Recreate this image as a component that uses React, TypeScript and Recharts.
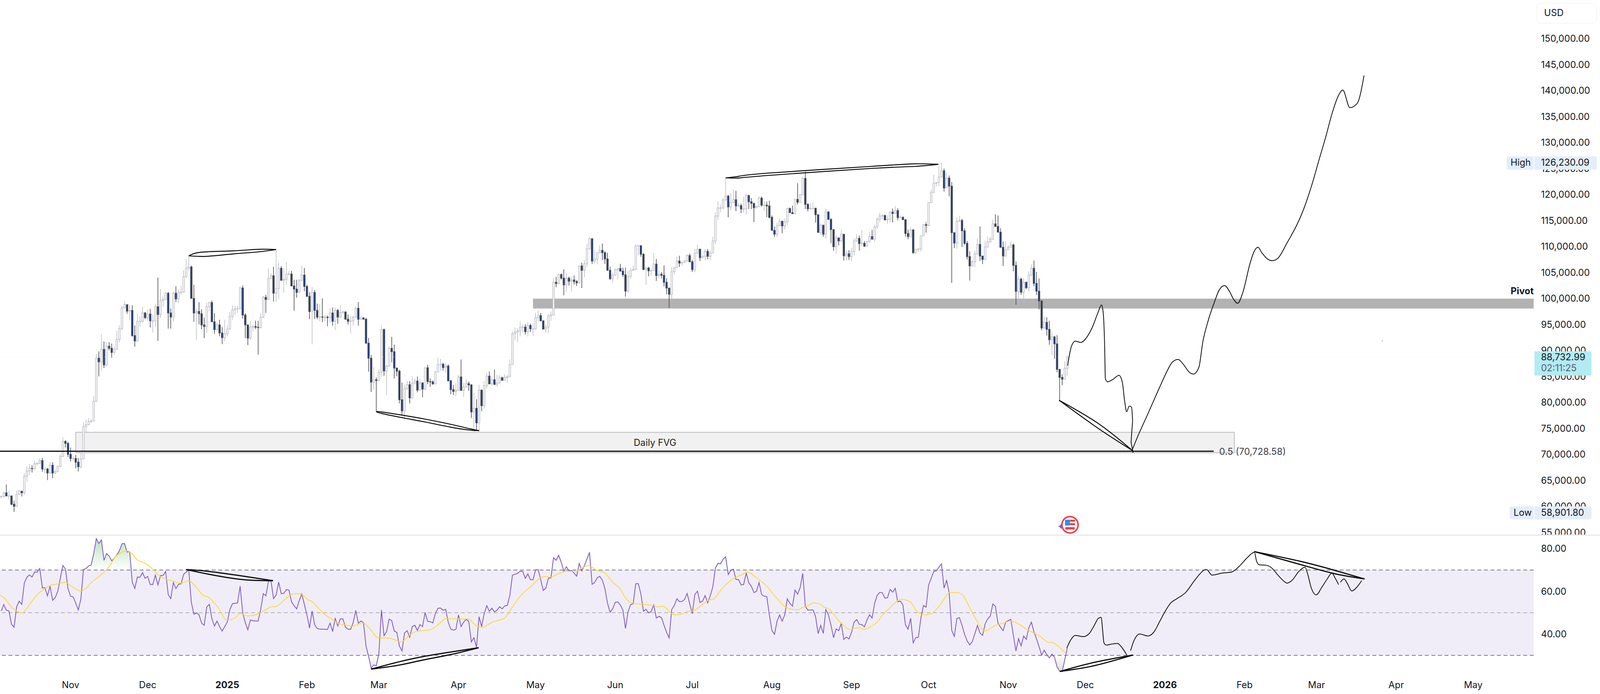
import { ComposedChart, Bar, Line, Area, XAxis, YAxis, ReferenceArea, ReferenceLine, ReferenceDot } from 'recharts'

// prices are in thousands of USD, one entry per daily bar
const closes = [
  61.9,62.6,62,62,60.4,60,62.3,62.9,62.6,65.8,
  66.8,67.3,67.27,68.2,68.27,68.8,67.17,67.17,66.4,67.9,
  66.4,66.7,67.7,69.6,72.5,72.1,70,69.2,69.2,68.5,
  67.6,69.1,75.3,75.7,76.3,76.4,80.2,88.5,87.8,90.2,
  87.2,90.8,90.4,89.6,90.2,92.1,94.2,98.2,98.8,97.55,
  97.7,92.85,91.8,95.6,95.6,97.2,96.3,97,95.7,95.7,
  98.4,96.9,99.6,99.8,101,97.2,96.4,101,99.9,101.2,
  101.2,104.2,105.8,106.05,100,97.2,97.5,97.05,94.9,94.6,
  98.4,99.2,95.5,94,94.9,93.35,92.45,93.2,94.1,96.55,
  97.8,98,98.05,102,96.8,94.9,92.35,94.5,94.6,94.45,
  94.4,96.4,100.2,99.8,103.85,104.36,101,101.9,105.8,103.5,
  103.65,104.7,104.7,102.4,101.8,101.15,103.5,104.5,102.3,100.4,
  97.47,101.15,97.7,96.4,96.45,96.4,96.4,96.3,97.2,95.6,
  97.7,96.4,97.3,97.4,96,95.6,95.65,96.4,98.1,96,
  96.25,96,91.4,88.5,83.9,84.35,84.2,85.8,94,86.05,
  87,90.4,89.75,86.6,86,80.5,78.35,82.65,83.4,80.85,
  83.7,84.1,82.35,83.75,82.55,86.65,84,83.95,83.55,85.85,
  87.3,87.35,86.7,87,84.15,82.45,82.1,82.35,84.9,82.3,
  82.95,83.6,83.35,78.15,78.85,76.05,82.35,79.35,83.2,85.05,
  83.55,84.35,83.45,83.75,84.75,84.25,84.8,85,87.3,93.2,
  93.5,93.75,94.45,94.5,93.6,94.8,94.15,94.15,96.3,96.7,
  95.7,94.1,94.5,96.65,96.8,103.1,102.85,104.6,103.9,102.6,
  103.9,103.3,103.55,103.25,103,106.25,105.4,106.65,109.5,111.5,
  107.2,107.6,108.8,109.25,108.8,107.6,105.4,103.8,104.5,105.5,
  105.75,105.25,104.55,101.4,104.2,105.4,105.6,110.1,110.15,108.5,
  105.55,105.85,105.3,105.35,106.6,104.4,104.65,104.45,103.1,101.99,
  100.8,105.15,105.9,107.2,106.8,106.9,107.2,108.25,107.05,105.55,
  108.7,109.45,107.85,108.1,109.05,108.1,108.75,111.05,115.85,117.4,
  117.4,118.95,119.7,117.6,118.45,119,117.8,117.85,117.2,117.25,
  119.8,118.6,118.3,117.45,117.7,119.3,117.95,117.95,117.8,115.6,
  113.1,112.35,114,114.85,113.95,114.75,117.3,116.5,116.3,119.05,
  118.5,119.95,123.1,118.1,117.25,117.35,117.35,116.1,112.7,114.1,
  112.35,116.65,115.2,113.25,109.95,111.65,111.05,112.35,108.2,108.6,
  108.05,109.05,111.05,111.55,110.55,110.6,110.05,110.95,111.9,111.4,
  113.75,115.25,115.85,115.95,115.1,115.25,116.6,116.35,116.9,115.55,
  115.6,115.15,112.5,111.9,113.2,108.8,109.45,109.55,112.05,114.2,
  114.05,118.45,120.4,122.15,122.3,123.35,124.55,121.25,123.15,121.6,
  112.65,110.65,114.85,115,113,110.6,108.05,106.25,107.05,108.55,
  110.4,108.15,107.5,109.9,110.85,111.4,114.35,113.85,112.75,109.85,
  108.15,109.4,109.85,110.3,106.35,101.35,103.7,101.2,103.1,102.05,
  104.5,105.8,102.9,101.4,99.5,94.3,95.4,94.05,92.05,92.6,
  91.25,86.35,84.8,84.45,86.55,88.73,
]

const highs = [
  62.1,62.8,64.2,63,62,61.06,63.1,63.2,63,66.3,
  67.7,68.2,67.9,68.8,68.5,69.2,69.3,67.5,67.4,68.5,
  68.5,67,67.85,69.95,73.3,72.7,72.4,71.3,69.6,69.9,
  69.3,70.3,76.2,76.7,77,76.8,81.2,89.3,89.8,93.1,
  91.7,91.6,91.6,91.3,90.7,93.75,94.8,98.6,99.5,98.8,
  98.6,98.7,94.8,97,96.5,98.4,97.4,97.9,98,96.9,
  98.9,104,101.8,100.4,101.25,101.25,98.05,101.3,102.35,101.7,
  102.4,105.4,107.55,108.2,106.35,102.6,98,99.3,97.9,96.3,
  99.2,99.4,99.6,97.15,95.4,95.9,94.5,95.9,94.8,97.4,
  98.6,98.6,98.6,102.25,102.5,97.15,95,95.6,95,95.7,
  95.7,97.2,100.5,100.7,105.7,104.8,106.1,109.3,106.9,106.2,
  105.8,107,105.3,105.3,103.6,103.6,103.75,106.3,105.85,102.65,
  101.2,102.15,101.6,99,98.9,100,96.75,96.7,98.1,98.25,
  98.25,98,98.7,97.7,97.5,96.9,96.65,96.65,98.5,99.3,
  96.65,96.4,96.25,92.4,89.1,86.75,84.8,86.35,94.8,94.2,
  87.2,90.75,92.6,91.1,86.7,86.3,83.8,83.35,84.1,84.1,
  85,84.6,84.95,84.5,83.75,86.8,87.25,84.6,84.2,86.1,
  88.6,88.4,87.6,87.55,87.3,84.35,83.35,83.7,85.3,88.25,
  83.7,84.45,84,83.55,81.9,80.6,83.35,82.5,84.05,85.7,
  85.95,85,86.3,85.3,85.25,84.95,85.45,85.25,88.25,93.7,
  94.4,94.25,95.55,95.05,95.05,95.45,95.15,95.15,97.25,97.7,
  97.2,95.75,95,97,97.5,103.9,104.15,104.8,104.8,105.6,
  104.8,104.2,104.15,104.4,103.55,106.3,106.9,107.3,110.55,111.85,
  111.55,109.35,108.85,110.25,110.55,109.1,108.8,106.1,104.9,105.8,
  105.85,106.65,105.9,105.9,105.3,105.9,106.35,110.45,110.25,110.15,
  108.7,106.05,106.1,105.6,108.75,107.6,105.3,105.05,106.35,103.85,
  101.99,106,105.95,108.05,108.2,107.1,107.45,108.45,108.6,107.4,
  109.55,110.35,109.6,108.2,109.5,109.5,109.25,111.85,116.55,118.65,
  118.05,119.35,123.2,119.9,120.3,120.9,120.7,118.4,118.2,119.55,
  120.15,119.95,119.3,118.3,117.8,119.6,119.6,118.7,118.6,118.8,
  115.95,113.85,114.55,115.5,114.95,115.35,117.5,117.5,117.85,119.1,
  122.15,120.1,123.45,124.4,118.3,118.3,118.45,117.45,116.1,114.4,
  114.1,117.3,116.75,115.45,113.25,112.25,111.65,113.25,112.4,109.2,
  109.3,109.7,111.5,112.4,112.1,113.2,111.05,111.05,112.75,113.2,
  114.2,115.6,116.55,116.2,116.1,115.95,116.75,117.3,117.8,117.35,
  116,115.8,115.25,113.25,113.75,113.25,109.55,109.6,112.1,114.3,
  114.65,118.5,120.95,123.8,122.35,125.5,126.23,125,124.1,123.65,
  122.4,112.7,115.65,115.9,115.3,113.5,111.05,109.05,107.4,109.2,
  111.5,113.85,108.15,111.15,111.9,111.85,115.2,116.2,115.95,113.5,
  110.95,110.95,110.2,110.95,110.55,107.1,104.35,104,103.85,103.25,
  105.2,106.55,107.3,105.1,103.85,99.65,96.55,96.4,95.7,93.5,
  92.8,92.95,86.4,85.4,87.9,89.1,
]

const lows = [
  61.5,61.6,61.9,61.3,60.2,58.9,60,62.3,61.9,62.2,
  64.65,66,66.5,67,67.8,68.1,66.66,66.3,65.05,66.3,
  65.4,66.2,66.6,67.5,69.5,71.3,69.5,68.6,68.8,67.3,
  66.7,67.3,69.1,74.2,75.6,76,76.4,80.2,85,86.1,
  86.6,86.9,90,88.6,89.2,90.2,91.5,93.9,98.05,97.05,
  95.8,92.6,90.7,91.6,94.6,95.3,96,95.7,94.4,93.45,
  94.5,91.85,96.3,98.4,99.7,94.2,94.2,95.5,99.3,99.06,
  100.7,101.1,103.9,105.3,100,95.5,92,95,94.1,92.35,
  93.35,97.5,95.5,93.2,93.85,92.7,91.2,91.8,92.7,94.05,
  95.9,96.9,97.2,97.9,96.1,92.35,91,92.1,93.6,94.1,
  89.2,94.2,96.2,97.2,99.8,103.8,99.4,99.35,99.9,103.4,
  101.1,102.65,104.4,102.3,97.65,100.15,101.1,103.3,101.4,100.3,
  96,91.15,96.05,96,95.6,95.45,95.6,94.65,95.3,94.75,
  93.9,95.15,96.3,97,95.9,95,93.25,94.8,96.3,94.75,
  95.9,95.95,91.25,85.9,82,82.5,78.2,84.1,84.85,85.1,
  81.35,86.9,87.7,84.6,85.05,79.8,77.6,76.6,82.35,79.8,
  80.7,83.6,81.9,82.3,81,82.4,83.5,83,83.4,83.55,
  85.85,86.1,86.1,85.75,84,81.55,81.4,81.15,82.2,82.2,
  81.05,82.85,82.2,77,74.35,74.6,74.55,78.3,78.8,82.6,
  83.5,83.2,83.35,82.95,83.6,84.1,84.25,83.8,85,87.25,
  91.9,91.55,92.75,93.45,93.05,92.7,93.55,92.8,94,95.55,
  95.6,94.05,93.4,93.25,95.65,96.8,102.15,102.75,103.6,100.6,
  101.3,102.5,101.3,102.65,102.4,102.9,102,104.05,106.05,109.5,
  106.65,106.75,106.55,108.7,107.4,106.65,105.35,103.55,103,104.4,
  103.65,105.2,104.15,100.35,101.1,103.85,105.3,105.55,108.3,108,
  105.5,102.65,104.25,104.4,105.3,103.35,103.9,103.85,102.3,100.8,
  98.15,99.6,104.6,105.9,106.05,106.3,106.8,107.05,107,105.1,
  105.05,108.6,107.2,107.75,107.35,107.55,107.35,108.75,110.45,115.1,
  116.6,117.2,118.8,115.6,116.95,118.35,116.8,117.55,116.4,116.5,
  116.1,117.2,117.2,114.7,117.4,117.6,117.6,116.9,115.65,115.35,
  113.05,111.85,111.8,113.95,112.55,113.3,114.1,116.45,116.25,116.2,
  118.05,118.45,119.9,117.2,116.75,117,117.1,114.6,112.65,112.25,
  111.85,111.5,115.1,110.65,109.15,108.55,110.2,110.9,107.3,107.3,
  107.4,107.15,108.3,110.9,109.2,110.05,109.9,109.95,110.7,111.3,
  110.85,113.3,114.65,115.25,115,114.3,114.65,114.65,116.35,115.05,
  115.35,115.1,111.9,111.4,111.8,108.55,108.6,108.95,109.05,112,
  112.65,113.9,118.3,120.35,121.5,121.6,123.3,120.55,121.2,119.65,
  103,109.7,109.55,114.85,109.9,110.3,107.5,103.45,106.15,106.05,
  108.4,107.25,106.6,107.4,109.85,110.75,111.3,113.75,112.7,109.7,
  106.25,108.05,109.3,109.8,105.2,98.8,98.8,100.7,99.15,101.8,
  101.3,104.35,102.35,100.65,97.85,93.85,94.2,92.85,91.1,89.1,
  88.4,85.8,80.35,83.3,84.4,85.1,
]

const rsiValues = [
  50.8,53.8,51.2,50.8,44.6,43.2,52.8,55.4,53.9,64,
  66.6,67.7,66.7,69.1,69,70.7,61.6,61.7,57.9,62.4,
  55.8,57,60,66.1,72.1,70.4,61.2,57.7,57.4,54.5,
  51.3,56.3,70.2,70.7,71.9,72.3,77.7,84.7,82.4,84.1,
  74.5,77.7,76.6,74.3,75.5,77.1,79,82.3,82.4,78.4,
  78.6,64.3,61.4,66.7,66.6,68.8,66.1,67,63.2,63.2,
  67.6,63,67.4,67.4,69.3,58.5,56.6,64.1,61.3,63.3,
  63.5,67.9,69.1,70,54.8,49.3,49.9,49,45.1,44.1,
  52.7,53.9,47.2,43.8,46.1,43.5,41.4,43.5,45.6,51.5,
  54.2,54.4,54.6,62.4,49.9,45.4,42,46.6,46.3,46.1,
  46.1,51.5,58.9,57.9,64.6,65,56.6,58.2,64.3,58.9,
  59.1,60.8,60.6,55.1,53.3,51.8,55.7,58.8,53.9,49,
  42.8,50.8,44.4,42.6,42.3,42.3,42.2,42.2,45.1,41.2,
  47.3,43.8,47.1,47.1,43.2,42.3,42.2,45.4,51.1,45.1,
  46.1,45.4,34.4,29.5,24,25.5,25.2,30.7,51.3,39.3,
  41.1,47,46.3,41.4,40.8,34.4,32.1,40.5,41.6,38.5,
  43.5,44.1,41.7,44.4,43.5,50.1,45.9,45.8,45.2,49.6,
  52.1,52.2,51.2,51.6,45.6,42.3,41.8,42.2,49,43.5,
  45.6,46.9,45.9,36.3,38.3,33.8,48.1,43.5,49.6,53.3,
  50.7,52.1,50.4,51.2,52.8,51.8,53.2,53.4,58.2,67.6,
  68,68.4,69.4,69.3,66.1,68.2,65.5,65.4,70,70.2,
  65.5,60.4,61.5,66.1,66.4,75.8,74.6,76.9,73.7,69.4,
  71.5,69.6,69.8,68.5,67.1,73.1,69.6,72.1,75.2,78.3,
  63.3,64.1,66.4,67,65.2,61.2,54.5,50.2,51.8,54.8,
  55.1,53.6,51.2,42.6,50.5,53.8,54.2,63.6,63.6,58.8,
  50.7,51.6,49.9,50.5,53.6,47.5,48.3,47.7,44.1,40.8,
  38.2,51.5,53.4,56.5,55.2,55.3,56.2,59,54.2,49.6,
  58.5,60.1,54.8,55.4,58,54.6,57.9,62.1,71,73.1,
  72.9,75.1,76.2,67.9,69.8,70.4,65.6,65.5,63,63.2,
  68.6,64,62.4,59.4,60.1,64.1,58.5,57.7,57.5,49,
  41.7,39.9,46,49,46,49,56.5,54.4,53,60.6,
  58.7,61.8,68.4,53,51.2,51.3,51.3,48.1,40.2,44,
  40.3,51.5,49,44.1,38.3,42.4,41.6,44.9,37.5,38.6,
  37.7,40.8,45.6,46.8,44.6,44.4,43.4,46.6,49,47.5,
  54.5,58.2,59.5,59.3,56.8,57,60.9,59.6,61.4,55.1,
  55.4,53.6,44.3,42.3,47.4,35.9,38.3,38.5,47.5,53.4,
  52.6,63,66.1,69.3,69.6,71.3,72.9,61.5,65.1,59.4,
  41.7,38.9,47.3,47.7,44.1,39.9,36.8,34.9,36.5,40.2,
  44,40.5,39.4,44.7,47.1,48.4,54.1,53,45.1,43.2,
  41.6,45.6,46.3,46.9,39.3,32.1,37.9,34.5,39.1,37.5,
  42.9,45.6,41.1,37.7,34.1,30.1,32.4,30.4,28.8,30.6,
  29.2,24.6,22.7,22.5,28,33.5,
]

// RSI moving average, read at its turning points: [bar, value]
const rsiMa = [
  [-0.5,58.2],[1.5,56.6],[3.5,53.3],[5.5,51.15],[8.2,49.9],[9.6,51.45],[11.6,54.8],[14.3,58.8],[16.9,61.2],[19.4,62.9],
  [21,63.2],[23,63.8],[25,64.25],[27,62.75],[29.7,60.6],[31,60.1],[33,61.5],[35,63.95],[37.7,66.7],[39.7,68.55],
  [42.4,72.2],[44.4,76.15],[46.4,78],[49.1,78.9],[51.1,77.4],[53.1,74.6],[55.1,73.7],[57.2,72.2],[59.2,70.05],[61.2,67.6],
  [63.9,65.8],[66.5,64.9],[69.9,63.85],[73,64.9],[76,61.8],[78.6,58.15],[80.6,57.25],[82.6,55.1],[85.3,50.85],[87.3,46.9],
  [88.7,46.7],[91.3,47.8],[92.9,49.6],[96,48.5],[100,49.45],[102.7,51.15],[105.4,52.85],[106.8,52.8],[109.4,55.1],[112.1,57.85],
  [114.1,58.9],[116.8,58.65],[119.5,56],[120.8,55.4],[123.5,52.05],[125.5,49.6],[128.9,46.9],[131.6,44.7],[133.6,44.45],[136.3,43.65],
  [141,45.15],[143.6,42.3],[147,38.05],[150.3,38.2],[153,37.4],[155.7,36.3],[159,39.55],[161,41.05],[162.4,41.4],[167,42],
  [170.4,44.7],[173,47.3],[176.5,47.05],[181.8,47.05],[185.2,43.65],[187.2,43.2],[191.2,45.65],[195.9,47.5],[198,50.85],[201.3,56.65],
  [206.6,62.75],[209.7,66.1],[211.7,66.9],[213.7,66.7],[217.7,68.65],[220.4,69.45],[223.8,69.3],[225.8,70.85],[228.7,72.05],[231.8,69.85],
  [234.5,69],[238.5,63.65],[240.5,61.8],[243.2,56.65],[245.9,54.4],[249.9,53.9],[252.6,53.6],[255.9,52.8],[257.7,53],[260.6,49.9],
  [262.3,48.9],[265.3,49.6],[267.4,50.7],[269.4,50.85],[272,53],[275.4,55.85],[277.4,56.45],[279.4,59.4],[281.4,62.4],[283.4,64.55],
  [286.1,66.7],[288.8,68.05],[290.1,69],[291.4,68.65],[294.2,66.1],[297.5,63.05],[300.9,58.15],[302.9,55.4],[305.1,52.8],[308.9,51.45],
  [310.2,51.45],[312.3,52.65],[313.6,53],[316.3,54.6],[319,53.9],[320.3,52.55],[321.6,52.2],[326.3,45.95],[330.4,42.2],[333.7,43],
  [336.1,42.2],[338.4,43.5],[340.8,45.35],[343.1,49],[345.8,52.05],[348.4,55.1],[350.4,56.2],[353.8,55.1],[356.5,50.5],[359.8,49],
  [362.2,49.6],[364.9,52.65],[367.2,56.65],[369.2,59.4],[371.9,59.5],[374.3,58.15],[376.6,53.3],[379.3,47.2],[382.9,41.4],[386.7,43.85],
  [390.7,45.35],[392.7,46.1],[395.4,45.2],[398.7,42.6],[401.4,40.8],[404.1,39.25],[407.4,36.3],[409.4,35.9],[411.4,34.35],[414.5,30.8],
]

// hand-drawn price path: [bar, price]
const pricePathDown = [
  [415.1,87.07],[416.6,90.8],[418.1,91.77],[420.3,91.53],[422.5,92.49],[424.7,94.41],[426.95,97.29],[428.3,98.73],[428.9,97.53],[429.5,91.29],
  [429.8,84.58],[430.65,83.95],[432.9,84.48],[435.1,85.2],[436.4,83.86],[437.3,80.26],[438.1,78.2],[439.1,79.3],[440,79.06],[440.4,76.43],
]
const pricePathTip = [[440.4,76.43],[439.8,72.35],[440.6,70.29]]
const pricePathUp = [
  [440.3,70.9],[442.5,73.55],[446.2,77.62],[450.7,82.66],[453.6,85.78],[455.8,87.7],[458.1,88.27],[460.3,87.22],[462.5,85.78],[464,85.44],
  [466.2,86.74],[467.7,91.53],[469.9,95.85],[472.2,99.21],[474.1,101.6],[476.2,102.47],[478.1,101.37],[479.6,99.93],[481.3,99.06],[483.3,101.13],
  [486.2,106.88],[487.7,109.04],[489.2,109.85],[490.7,108.8],[492.9,107.6],[494.8,107.26],[496.9,107.7],[500.3,110.48],[507,117.19],[510.7,122.7],
  [512.9,126.54],[515.6,131.1],[518,135.5],[520.6,139.1],[522.2,140.1],[525,136.7],[527.8,137.5],[530.5,142.9],
]

// divergence strokes on the price pane
const priceStrokes = [
  [[73.05,108.2],[78,108.9],[90,109.15],[100,109.45],[107,109.4]],
  [[73.05,108.2],[80,108.1],[90,108.55],[100,108.95],[107,109.4]],
  [[146,78.22],[148.2,78.15],[156.9,77.47],[165,76.77],[175,75.77],[182.4,74.92],[186.05,74.55]],
  [[146,78.22],[148.2,77.85],[156.9,76.98],[165,76.22],[175,75.22],[182.4,74.66],[186.05,74.55]],
  [[282,123.2],[286.6,123.45],[298.2,124.1],[338.4,125.4],[355.7,125.9],[364.8,125.8]],
  [[282,123.2],[286.6,123.15],[298.2,123.65],[338.4,125],[355.7,125.4],[364.8,125.8]],
  [[411.8,80.4],[427,75.95],[440.3,70.75]],
  [[411.8,80.4],[427,75],[440.3,70.75]],
]

// hand-drawn RSI path: [bar, rsi]
const rsiPathA = [
  [414.8,33.45],[416.1,36.8],[418.1,39.4],[421.2,38.8],[423.5,40.2],[425.5,44.1],[427.2,47.5],[428.2,47.8],[428.7,42.3],[429.25,35.9],
  [430.2,34.85],[432.2,35.3],[434.6,35.6],[436.2,33.75],[438.2,30.1],
]
const rsiPathB = [
  [439.6,32.2],[440.9,36.8],[443.2,40],[446.3,39.1],[448.6,40.8],[451,46],[453,50.5],[455.2,54.5],[457.7,56.6],[461,59.4],
  [464.4,64.9],[466.4,67.9],[468.4,70.05],[469.2,70.2],[471.3,67.6],[475.1,68.5],[479.1,69.1],[481.8,71.6],[485.1,75.85],[487.8,78.3],
  [488.7,74],[489.8,72.4],[492.5,72.2],[494.5,71],[497.2,67.3],[499.2,64.85],[500.5,63.85],[502.5,65.2],[505.2,69.45],[507.5,71.3],
  [508.6,67.9],[509.9,61.8],[511.9,58.35],[514,61.8],[516,65.5],[518,68.5],[519.3,66.1],[520.6,63.15],
]
const rsiPathC = [[521.3,64.25],[522.7,65.8],[524,63.65],[525.7,60.2],[528,62.4],[529.6,65.05]]

const rsiStrokes = [
  [[72,70.2],[80,69.45],[93.3,67.3],[105.8,65]],
  [[72,70.2],[80,68.2],[93.3,65.6],[105.8,65]],
  [[144,23.6],[155,27.05],[164.4,29.5],[175,31.6],[185.85,33.6]],
  [[144,23.6],[155,25.5],[164.4,27.9],[175,30.4],[185.85,33.6]],
  [[412.1,22.5],[425.5,26.75],[440.6,30.2]],
  [[412.1,22.5],[425.5,25.2],[440.6,30.2]],
  [[487.8,78.6],[505.9,74],[519.3,69.75],[530.7,65.8]],
  [[487.8,78.6],[505.9,72.5],[519.3,68.2],[530.7,65.8]],
]

const priceTicks = [55,60,65,70,75,80,85,90,95,100,105,110,115,120,125,130,135,140,145,150]
const rsiTicks = [40,60,80]
const timeTicks = [27,57,88,119,147,178,208,239,269,300,331,361,392,422,453,484,512,543,573]
const timeLabels = ['Nov','Dec','2025','Feb','Mar','Apr','May','Jun','Jul','Aug','Sep','Oct','Nov','Dec','2026','Feb','Mar','Apr','May']

const X_DOMAIN = [-0.48, 596.52]
const PRICE_DOMAIN = [54.41, 157.42]
const RSI_DOMAIN = [20.35, 86.22]
const FONT = 'Inter, sans-serif'
// the browser viewport stops at 4096px, so the 4148px layout is squeezed to fit it
const FIT_X = 4096 / 4148

const candles = closes.map((c, i) => ({ k: i, o: i === 0 ? 61.9 : closes[i - 1], h: highs[i], l: lows[i], c }))

const rsiRows = rsiValues.map((r, i) => {
  const prev = rsiValues[i - 1] ?? r
  const next = rsiValues[i + 1] ?? r
  return {
    k: i,
    r,
    ob: r > 70 || prev > 70 || next > 70 ? [70, Math.max(r, 70)] : null,
    os: r < 30 || prev < 30 || next < 30 ? [Math.min(r, 30), 30] : null,
  }
})

const toRows = (pts: number[][]) => pts.map(([k, v]) => ({ k, v }))
const candleRange = (d: any) => [d.l, d.h]
const money = (v: number) => (v * 1000).toLocaleString('en-US', { minimumFractionDigits: 2 })

const Candle = (props: any) => {
  const { x, y, width, height, payload } = props
  const { o, c, h, l } = payload
  const cx = x + width / 2
  const perUnit = height / (h - l)
  const yOf = (v: number) => y + (h - v) * perUnit
  const up = c >= o
  const top = yOf(Math.max(o, c))
  const bottom = yOf(Math.min(o, c))
  const edge = up ? '#bcbec4' : '#4a4a4f'
  return (
    <g>
      <line x1={cx} x2={cx} y1={y} y2={y + height} stroke={edge} strokeWidth={1.6} />
      <rect x={cx - 2} y={top} width={4} height={Math.max(bottom - top, 0.8)} fill={up ? '#ffffff' : '#1c3f94'} stroke={edge} strokeWidth={1.6} />
    </g>
  )
}

const TimeTick = (props: any) => {
  const label = timeLabels[props.index]
  const year = label.length === 4
  return (
    <text x={props.x} y={props.y + 29} textAnchor="middle" fontFamily={FONT} fontSize={24} fontWeight={year ? 700 : 400} fill="#131722">
      {label}
    </text>
  )
}

const pen = (key: string, pts: number[][], width: number, curve: any = 'monotone') => (
  <Line
    key={key}
    data={toRows(pts)}
    dataKey="v"
    type={curve}
    stroke="#0b0b0b"
    strokeWidth={width}
    dot={false}
    activeDot={false}
    isAnimationActive={false}
    legendType="none"
  />
)

const tag: any = { position: 'absolute', fontFamily: FONT, fontSize: 24, color: '#131722', lineHeight: '1', whiteSpace: 'nowrap' }

export default function App() {
  return (
    <div style={{ position: 'fixed', left: 0, top: 0, width: 4096, height: 1776, background: '#fff', overflow: 'hidden' }}>
      <div style={{ position: 'absolute', left: 0, top: 0, width: 4148, height: 1776, transform: `scaleX(${FIT_X})`, transformOrigin: '0 0' }}>
        <div style={{ position: 'absolute', left: 0, top: 0 }}>
          <ComposedChart width={4148} height={1370} data={candles} margin={{ top: 0, right: 0, bottom: 0, left: 0 }}>
            <XAxis dataKey="k" type="number" domain={X_DOMAIN} allowDataOverflow hide />
            <YAxis
              orientation="right"
              width={172}
              domain={PRICE_DOMAIN}
              allowDataOverflow
              ticks={priceTicks}
              interval={0}
              axisLine={false}
              tickLine={false}
              tickSize={0}
              tickMargin={19}
              tickFormatter={money}
              tick={{ fontFamily: FONT, fontSize: 24, fill: '#131722' }}
            />
            <ReferenceLine y={88.73} stroke="#ebebeb" strokeDasharray="2 5" />
            <ReferenceArea x1={207} x2={596.52} y1={98.05} y2={99.95} fill="#b2b2b2" fillOpacity={1} stroke="none" />
            <ReferenceArea
              x1={29}
              x2={480}
              y1={70.3}
              y2={74.24}
              fill="#f1f1f1"
              fillOpacity={1}
              stroke="#bdbdbd"
              strokeWidth={2}
              label={{ value: 'Daily FVG', position: 'center', fontFamily: FONT, fontSize: 24, fill: '#222' }}
            />
            <ReferenceLine segment={[{ x: -0.48, y: 70.6 }, { x: 472, y: 70.6 }]} stroke="#0b0b0b" strokeWidth={3} />
            <Bar dataKey={candleRange} barSize={5} shape={<Candle />} isAnimationActive={false} legendType="none" />
            {pen('path-down', pricePathDown, 2)}
            {pen('path-tip', pricePathTip, 2, 'linear')}
            {pen('path-up', pricePathUp, 2)}
            {priceStrokes.map((s, i) => pen(`stroke-${i}`, s, 2.4, 'natural'))}
            <ReferenceDot x={537.6} y={91.8} r={1} fill="#555" stroke="none" />
          </ComposedChart>
        </div>

        <div style={{ position: 'absolute', left: 0, top: 1368, width: 4148, height: 3, background: '#e9e9ec' }} />

        <div style={{ position: 'absolute', left: 0, top: 1370 }}>
          <ComposedChart width={4148} height={406} data={rsiRows} margin={{ top: 0, right: 0, bottom: 0, left: 0 }}>
            <defs>
              <linearGradient id="rsiHigh" gradientUnits="userSpaceOnUse" x1="0" y1="7" x2="0" y2="89">
                <stop offset="0%" stopColor="#4caf50" stopOpacity={0.38} />
                <stop offset="100%" stopColor="#4caf50" stopOpacity={0} />
              </linearGradient>
              <linearGradient id="rsiLow" gradientUnits="userSpaceOnUse" x1="0" y1="307" x2="0" y2="350">
                <stop offset="0%" stopColor="#8a8a8a" stopOpacity={0} />
                <stop offset="100%" stopColor="#8a8a8a" stopOpacity={0.3} />
              </linearGradient>
            </defs>
            <XAxis
              dataKey="k"
              type="number"
              domain={X_DOMAIN}
              allowDataOverflow
              ticks={timeTicks}
              interval={0}
              height={46}
              axisLine={false}
              tickLine={false}
              tickSize={0}
              tick={<TimeTick />}
            />
            <YAxis
              orientation="right"
              width={172}
              domain={RSI_DOMAIN}
              allowDataOverflow
              ticks={rsiTicks}
              interval={0}
              axisLine={false}
              tickLine={false}
              tickSize={0}
              tickMargin={19}
              tickFormatter={(v: number) => v.toFixed(2)}
              tick={{ fontFamily: FONT, fontSize: 24, fill: '#131722' }}
            />
            <ReferenceArea x1={-0.48} x2={596.52} y1={30} y2={70} fill="#f0edf8" fillOpacity={1} stroke="none" />
            <ReferenceLine y={70} stroke="#787b86" strokeWidth={2} strokeDasharray="10 7" />
            <ReferenceLine y={50} stroke="#b2b0bb" strokeWidth={2} strokeDasharray="10 7" />
            <ReferenceLine y={30} stroke="#787b86" strokeWidth={2} strokeDasharray="10 7" />
            <Area dataKey="ob" type="linear" fill="url(#rsiHigh)" fillOpacity={1} stroke="none" isAnimationActive={false} legendType="none" dot={false} activeDot={false} />
            <Area dataKey="os" type="linear" fill="url(#rsiLow)" fillOpacity={1} stroke="none" isAnimationActive={false} legendType="none" dot={false} activeDot={false} />
            <Line dataKey="r" type="linear" stroke="#7e57c2" strokeWidth={2} dot={false} activeDot={false} isAnimationActive={false} legendType="none" />
            <Line data={toRows(rsiMa)} dataKey="v" type="monotone" stroke="#fdd835" strokeWidth={2} dot={false} activeDot={false} isAnimationActive={false} legendType="none" />
            {pen('rsi-a', rsiPathA, 2)}
            {pen('rsi-b', rsiPathB, 2)}
            {pen('rsi-c', rsiPathC, 2)}
            {rsiStrokes.map((s, i) => pen(`rsi-stroke-${i}`, s, 3, 'natural'))}
          </ComposedChart>
        </div>

        {/* price scale tags */}
        <div style={{ position: 'absolute', left: 3984, top: 8, width: 156, height: 52, border: '1px solid #eceef2', borderRadius: 10, boxSizing: 'border-box' }} />
        <div style={{ ...tag, left: 4003, top: 21 }}>USD</div>

        <div style={{ position: 'absolute', left: 3906, top: 400, width: 70, height: 34, background: '#e3eefb', borderRadius: '5px 0 0 5px' }} />
        <div style={{ position: 'absolute', left: 3978, top: 400, width: 162, height: 34, background: '#e3eefb', borderRadius: '0 5px 5px 0' }} />
        <div style={{ ...tag, left: 3916, top: 404 }}>High</div>
        <div style={{ ...tag, left: 3995, top: 404 }}>126,230.09</div>

        <div style={{ position: 'absolute', left: 3914, top: 1296, width: 62, height: 33, background: '#e3eefb', borderRadius: '5px 0 0 5px' }} />
        <div style={{ position: 'absolute', left: 3978, top: 1296, width: 148, height: 33, background: '#e3eefb', borderRadius: '0 5px 5px 0' }} />
        <div style={{ ...tag, left: 3924, top: 1300 }}>Low</div>
        <div style={{ ...tag, left: 3995, top: 1300 }}>58,901.80</div>

        <div style={{ position: 'absolute', left: 3978, top: 899, width: 148, height: 62, background: '#b2ebf2', borderRadius: '0 5px 5px 0' }} />
        <div style={{ ...tag, left: 3995, top: 902 }}>88,732.99</div>
        <div style={{ ...tag, left: 3995, top: 930, color: '#555b66' }}>02:11:25</div>

        <div style={{ ...tag, right: 172, top: 733, fontWeight: 700 }}>Pivot</div>
        <div style={{ ...tag, left: 3161, top: 1144, color: '#3d3f45' }}>0.5 (70,728.58)</div>

        {/* small flag badge under the last candles */}
        <svg style={{ position: 'absolute', left: 2738, top: 1318 }} width={66} height={50} viewBox="0 0 66 50">
          <path d="M10 27 l3 -5 l3 5 l5 2 l-5 2 l-3 5 l-3 -5 l-5 -2 z" fill="#7e57c2" />
          <circle cx={36} cy={25} r={21} fill="#fff" stroke="#ef3f4a" strokeWidth={4} />
          <rect x={23} y={12} width={13} height={15} fill="#2f8fe8" />
          <rect x={36} y={12} width={13} height={5} fill="#ef3f4a" />
          <rect x={36} y={21} width={13} height={5} fill="#ef3f4a" />
          <rect x={24} y={31} width={24} height={6} fill="#ef3f4a" />
        </svg>
      </div>
    </div>
  )
}
